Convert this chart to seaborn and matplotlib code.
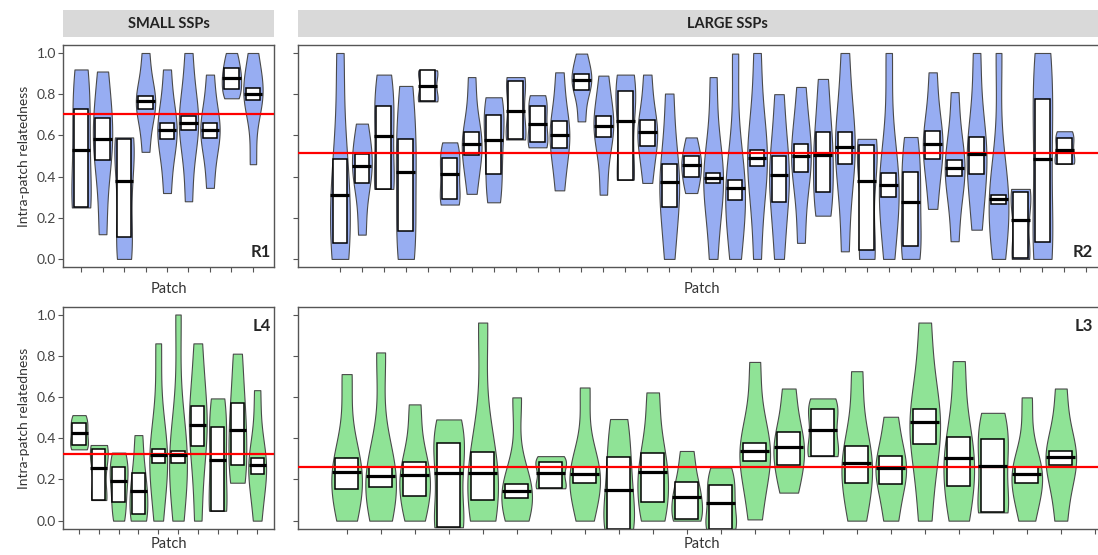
import numpy as np
import pandas as pd
import matplotlib.pyplot as plt
import seaborn as sns

# -----------------------------------
# DATA
# each patch: violin range (min..max), box (q1..q3) and median
# -----------------------------------

# R1 - small SSPs, top row
r1_min = [0.25, 0.12, 0.00, 0.52, 0.32, 0.28, 0.345, 0.78, 0.46]
r1_q1 = [0.25, 0.48, 0.107, 0.73, 0.58, 0.625, 0.587, 0.825, 0.77]
r1_med = [0.527, 0.58, 0.377, 0.765, 0.628, 0.66, 0.628, 0.88, 0.80]
r1_q3 = [0.73, 0.685, 0.58, 0.79, 0.66, 0.696, 0.66, 0.927, 0.83]
r1_max = [0.92, 0.91, 0.59, 1.00, 0.92, 1.00, 0.895, 1.00, 1.00]
r1_mean = 0.705

# R2 - large SSPs, top row (last patch has no data)
r2_min = [0.0, 0.118, 0.34, 0.0, 0.765, 0.264, 0.316, 0.275, 0.58, 0.542,
          0.333, 0.668, 0.312, 0.385, 0.369, 0.0, 0.32, 0.0, 0.0, 0.0,
          0.0, 0.078, 0.21, 0.037, 0.0, 0.0, 0.0, 0.243, 0.086, 0.142,
          0.0, 0.0, 0.0, 0.463, np.nan]
r2_q1 = [0.078, 0.369, 0.34, 0.134, 0.765, 0.29, 0.506, 0.41, 0.58, 0.566,
         0.539, 0.822, 0.59, 0.385, 0.55, 0.252, 0.396, 0.369, 0.288, 0.45,
         0.277, 0.42, 0.325, 0.463, 0.045, 0.30, 0.065, 0.485, 0.405, 0.414,
         0.269, 0.005, 0.081, 0.463, np.nan]
r2_med = [0.309, 0.45, 0.595, 0.424, 0.838, 0.41, 0.56, 0.576, 0.72, 0.657,
          0.604, 0.867, 0.644, 0.672, 0.615, 0.372, 0.458, 0.393, 0.345, 0.49,
          0.406, 0.498, 0.503, 0.542, 0.377, 0.36, 0.275, 0.56, 0.442, 0.511,
          0.29, 0.19, 0.485, 0.53, np.nan]
r2_q3 = [0.485, 0.511, 0.741, 0.58, 0.916, 0.49, 0.615, 0.70, 0.866, 0.744,
         0.668, 0.90, 0.693, 0.814, 0.673, 0.461, 0.50, 0.417, 0.382, 0.527,
         0.498, 0.56, 0.617, 0.615, 0.555, 0.417, 0.42, 0.62, 0.479, 0.592,
         0.312, 0.324, 0.778, 0.587, np.nan]
r2_max = [1.0, 0.657, 0.895, 0.84, 0.916, 0.566, 0.883, 0.785, 0.883, 0.795,
          0.906, 0.997, 0.89, 0.895, 0.895, 0.803, 0.59, 0.883, 0.997, 1.0,
          0.80, 0.835, 0.874, 1.0, 0.583, 1.0, 0.592, 0.906, 0.81, 1.0,
          1.0, 0.34, 1.0, 0.62, np.nan]
r2_mean = 0.515

# L4 - small SSPs, bottom row
l4_min = [0.346, 0.10, 0.0, 0.0, 0.0, 0.0, 0.0, 0.048, 0.184, 0.0]
l4_q1 = [0.367, 0.10, 0.092, 0.032, 0.281, 0.281, 0.364, 0.048, 0.27, 0.225]
l4_med = [0.423, 0.257, 0.194, 0.145, 0.32, 0.318, 0.464, 0.294, 0.44, 0.27]
l4_q3 = [0.472, 0.346, 0.258, 0.23, 0.346, 0.34, 0.556, 0.456, 0.569, 0.302]
l4_max = [0.512, 0.367, 0.33, 0.415, 0.86, 1.0, 0.86, 0.593, 0.81, 0.633]
l4_mean = 0.323

# L3 - large SSPs, bottom row (last patch has no data)
l3_min = [0.0, 0.0, 0.0, -0.032, 0.0, 0.0, 0.157, 0.0, -0.04, 0.0,
          0.0, -0.04, 0.006, 0.136, 0.313, 0.0, 0.0, 0.0, 0.0, 0.04,
          0.0, 0.0, np.nan]
l3_q1 = [0.152, 0.162, 0.12, -0.032, 0.10, 0.108, 0.157, 0.181, -0.04, 0.09,
         0.01, -0.04, 0.29, 0.27, 0.313, 0.184, 0.178, 0.372, 0.17, 0.04,
         0.184, 0.27, np.nan]
l3_med = [0.234, 0.218, 0.221, 0.229, 0.231, 0.145, 0.233, 0.225, 0.149, 0.237,
          0.116, 0.084, 0.338, 0.359, 0.44, 0.281, 0.254, 0.477, 0.302, 0.265,
          0.225, 0.307, np.nan]
l3_q3 = [0.302, 0.262, 0.286, 0.375, 0.333, 0.176, 0.286, 0.258, 0.307, 0.326,
         0.186, 0.173, 0.375, 0.431, 0.541, 0.362, 0.313, 0.54, 0.407, 0.397,
         0.262, 0.339, np.nan]
l3_max = [0.711, 0.816, 0.564, 0.491, 0.961, 0.598, 0.313, 0.646, 0.493, 0.622,
          0.338, 0.258, 0.77, 0.641, 0.593, 0.725, 0.504, 0.961, 0.774, 0.523,
          0.598, 0.641, np.nan]
l3_mean = 0.262

BLUE = "#97adf2"
GREEN = "#8fe396"

# -----------------------------------
# STYLE
# -----------------------------------

sns.set_theme(style="white")
plt.rcParams['font.family'] = ['Lato', 'DejaVu Sans']


def long_frame(stats):
    rows = []
    for i, vals in enumerate(zip(*stats)):
        for v in vals:
            if not np.isnan(v):
                rows.append((str(i + 1), v))
    return pd.DataFrame(rows, columns=['patch', 'rel'])


def draw_panel(ax, stats, mean, color, xlim, ylim, tag, tag_top, show_ylab,
               xpad):
    n = len(stats[0])
    order = [str(i + 1) for i in range(n)]
    df = long_frame(stats)

    sns.violinplot(data=df, x='patch', y='rel', order=order, ax=ax,
                   cut=0, inner=None, density_norm='width', width=0.9,
                   bw_adjust=0.85, color=color, saturation=1,
                   linecolor='#4a4a4a', linewidth=0.8)
    sns.boxplot(data=df, x='patch', y='rel', order=order, ax=ax,
                width=0.67, whis=0, showcaps=False, showfliers=False,
                color='white', saturation=1, linecolor='black', linewidth=1.1,
                medianprops=dict(linewidth=0), whiskerprops=dict(linewidth=0))

    ax.axhline(mean, color='#ff0000', lw=1.6, zorder=5)

    med = np.array(stats[2])
    pos = np.arange(n)
    ok = ~np.isnan(med)
    ax.hlines(med[ok], pos[ok] - 0.43, pos[ok] + 0.43, color='black',
              lw=2.3, zorder=6)

    ax.set_xlim(*xlim)
    ax.set_ylim(*ylim)
    ax.set_yticks([0.0, 0.2, 0.4, 0.6, 0.8, 1.0])
    if show_ylab:
        ax.set_yticklabels(['0.0', '0.2', '0.4', '0.6', '0.8', '1.0'])
        ax.set_ylabel('Intra-patch relatedness', fontsize=10, color='#333333',
                      labelpad=5)
    else:
        ax.set_yticklabels([])
        ax.set_ylabel('')
    ax.set_xlabel('Patch', fontsize=10.5, color='#333333', labelpad=xpad)
    ax.tick_params(axis='both', direction='out', length=3.5, width=0.8,
                   color='#555555', labelsize=10, labelcolor='#444444',
                   labelbottom=False, left=True, bottom=True, pad=1.5)
    for sp in ax.spines.values():
        sp.set_color('#555555')
        sp.set_linewidth(1.0)

    if tag_top:
        ax.text(0.985, 0.95, tag, transform=ax.transAxes, ha='right',
                va='top', fontsize=12, fontweight='bold', zorder=7)
    else:
        ax.text(0.985, 0.03, tag, transform=ax.transAxes, ha='right',
                va='bottom', fontsize=12, fontweight='bold', zorder=7)


fig = plt.figure(figsize=(10.98, 5.55), dpi=100)

left_x, left_w = 63 / 1098, 211 / 1098
right_x, right_w = 298 / 1098, 807 / 1098
top_y, bot_y, h = 0.519, 0.0463, 0.40

ax_r1 = fig.add_axes([left_x, top_y, left_w, h])
ax_r2 = fig.add_axes([right_x, top_y, right_w, h])
ax_l4 = fig.add_axes([left_x, bot_y, left_w, h])
ax_l3 = fig.add_axes([right_x, bot_y, right_w, h])

draw_panel(ax_r1, [r1_min, r1_q1, r1_med, r1_q3, r1_max], r1_mean, BLUE,
           (-0.84, 8.98), (-0.039, 1.039), 'R1', False, True, 7)
draw_panel(ax_r2, [r2_min, r2_q1, r2_med, r2_q3, r2_max], r2_mean, BLUE,
           (-1.91, 34.85), (-0.039, 1.039), 'R2', False, False, 7)
draw_panel(ax_l4, [l4_min, l4_q1, l4_med, l4_q3, l4_max], l4_mean, GREEN,
           (-0.81, 9.85), (-0.042, 1.035), 'L4', True, True, 2)
draw_panel(ax_l3, [l3_min, l3_q1, l3_med, l3_q3, l3_max], l3_mean, GREEN,
           (-1.43, 22.3), (-0.042, 1.035), 'L3', True, False, 2)

# header strips
for x0, w, title in [(left_x, left_w, 'SMALL SSPs'),
                     (right_x, right_w, 'LARGE SSPs')]:
    strip = fig.add_axes([x0, 1 - 37 / 555, w, 27 / 555])
    strip.set_facecolor('#d9d9d9')
    strip.set_xticks([])
    strip.set_yticks([])
    for sp in strip.spines.values():
        sp.set_visible(False)
    cx = 0.5 if title.startswith('SMALL') else (727 - 298) / 807
    strip.text(cx, 0.5, title, transform=strip.transAxes, ha='center',
               va='center', fontsize=10.5, fontweight='bold', color='#222222')

plt.savefig("out.png", dpi=100)
